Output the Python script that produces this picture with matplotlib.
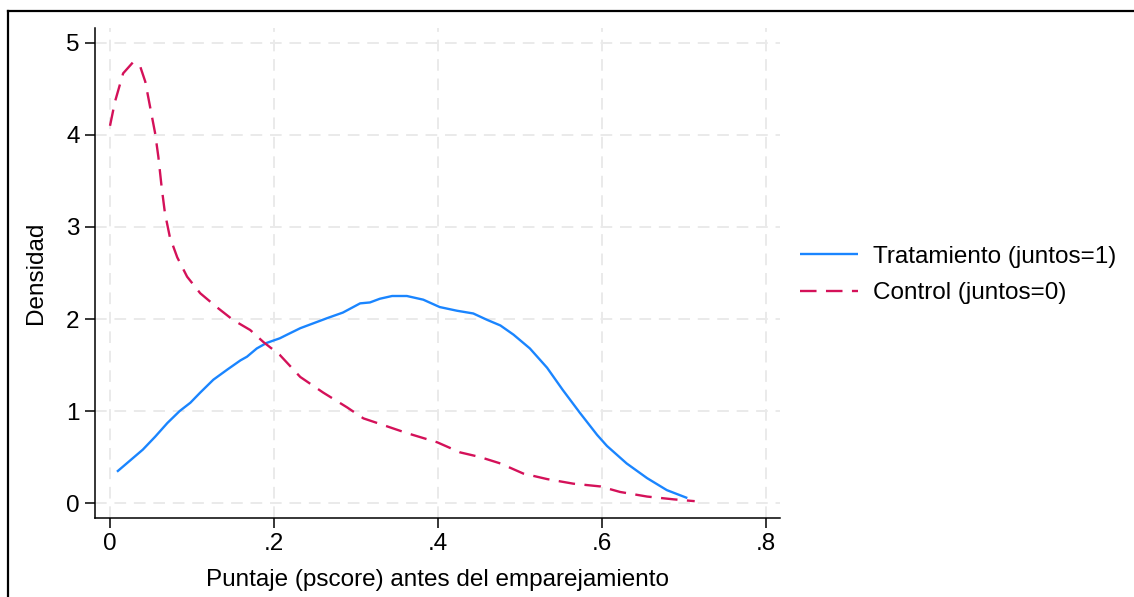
import matplotlib
matplotlib.use("Agg")
import matplotlib.pyplot as plt
from matplotlib.lines import Line2D
from matplotlib.ticker import FixedLocator

# Data (kernel density estimates)
treat_x = [0.0085, 0.040, 0.055, 0.070, 0.085, 0.098, 0.110, 0.126, 0.143, 0.159, 0.167,
           0.179, 0.191, 0.207, 0.216, 0.232, 0.265, 0.284, 0.305, 0.317, 0.329, 0.344,
           0.362, 0.382, 0.402, 0.423, 0.443, 0.460, 0.476, 0.492, 0.512, 0.533, 0.552,
           0.573, 0.594, 0.606, 0.630, 0.655, 0.679, 0.704]
treat_y = [0.34, 0.58, 0.72, 0.87, 1.00, 1.09, 1.20, 1.34, 1.45, 1.55, 1.59,
           1.68, 1.74, 1.79, 1.83, 1.90, 2.01, 2.07, 2.17, 2.18, 2.22, 2.25,
           2.25, 2.21, 2.13, 2.09, 2.06, 1.99, 1.93, 1.83, 1.68, 1.47, 1.23,
           0.98, 0.74, 0.62, 0.43, 0.27, 0.14, 0.054]

ctrl_x = [0.000, 0.006, 0.016, 0.028, 0.037, 0.043, 0.049, 0.055, 0.059, 0.063, 0.067,
          0.073, 0.082, 0.094, 0.110, 0.130, 0.150, 0.171, 0.187, 0.207, 0.232, 0.260,
          0.289, 0.309, 0.329, 0.362, 0.399, 0.427, 0.451, 0.476, 0.504, 0.533, 0.565,
          0.598, 0.622, 0.655, 0.687, 0.713]
ctrl_y = [4.10, 4.36, 4.67, 4.79, 4.74, 4.58, 4.30, 4.02, 3.76, 3.43, 3.15,
          2.89, 2.67, 2.46, 2.28, 2.13, 1.99, 1.88, 1.75, 1.61, 1.37, 1.20,
          1.04, 0.92, 0.86, 0.76, 0.66, 0.55, 0.50, 0.43, 0.32, 0.26, 0.21,
          0.18, 0.12, 0.07, 0.04, 0.02]

x_ticks = [0, 0.2, 0.4, 0.6, 0.8]
x_tick_labels = ["0", ".2", ".4", ".6", ".8"]
y_ticks = [0, 1, 2, 3, 4, 5]
y_tick_labels = ["0", "1", "2", "3", "4", "5"]

series_labels = ["Tratamiento (juntos=1)", "Control (juntos=0)"]
x_label = "Puntaje (pscore) antes del emparejamiento"
y_label = "Densidad"

plt.rcParams['font.family'] = ['Liberation Sans', 'DejaVu Sans']

W, H = 1134, 597
FS = 17.5
fig = plt.figure(figsize=(W / 100, H / 100), dpi=100)
fig.patch.set_facecolor("white")

ax = fig.add_axes([95 / W, 1 - 518 / H, (780 - 95) / W, (518 - 28) / H])

blue = "#1a85ff"
red = "#d41159"

ax.plot(treat_x, treat_y, color=blue, lw=1.7, label=series_labels[0],
        solid_capstyle="butt", solid_joinstyle="round")
ax.plot(ctrl_x, ctrl_y, color=red, lw=1.7, dashes=(7, 4), label=series_labels[1],
        dash_joinstyle="round")

ax.set_xlim(-0.0183, 0.817)
ax.set_ylim(-0.163, 5.163)

ax.xaxis.set_major_locator(FixedLocator(x_ticks))
ax.yaxis.set_major_locator(FixedLocator(y_ticks))
ax.set_xticklabels(x_tick_labels)
ax.set_yticklabels(y_tick_labels, rotation=0)

for v in x_ticks:
    ax.axvline(v, color="#eaeaea", lw=1.4, dashes=(6, 4), zorder=0)
for v in y_ticks:
    ax.axhline(v, color="#eaeaea", lw=1.4, dashes=(6, 4), zorder=0)

ax.spines["top"].set_visible(False)
ax.spines["right"].set_visible(False)
for s in ("left", "bottom"):
    ax.spines[s].set_linewidth(1.1)
    ax.spines[s].set_color("black")

ax.tick_params(axis="both", direction="out", length=7, width=1.1, labelsize=FS, pad=4)

ax.set_xlabel(x_label, fontsize=FS, labelpad=10)
ax.set_ylabel(y_label, fontsize=FS, labelpad=14)

handles, labels = ax.get_legend_handles_labels()
fig.legend(handles, labels, loc="center left", bbox_to_anchor=(778 / W, 1 - 275 / H),
           frameon=False, fontsize=FS, handlelength=2.4, handletextpad=0.6,
           labelspacing=0.6)

# outer frame (left and top edges visible)
fig.add_artist(Line2D([8 / W, 8 / W], [-0.1, 1 - 11 / H], transform=fig.transFigure,
                      color="black", lw=1.6))
fig.add_artist(Line2D([8 / W, 1.1], [1 - 11 / H, 1 - 11 / H], transform=fig.transFigure,
                      color="black", lw=1.6))

fig.savefig("out.png", dpi=100, facecolor="white")
